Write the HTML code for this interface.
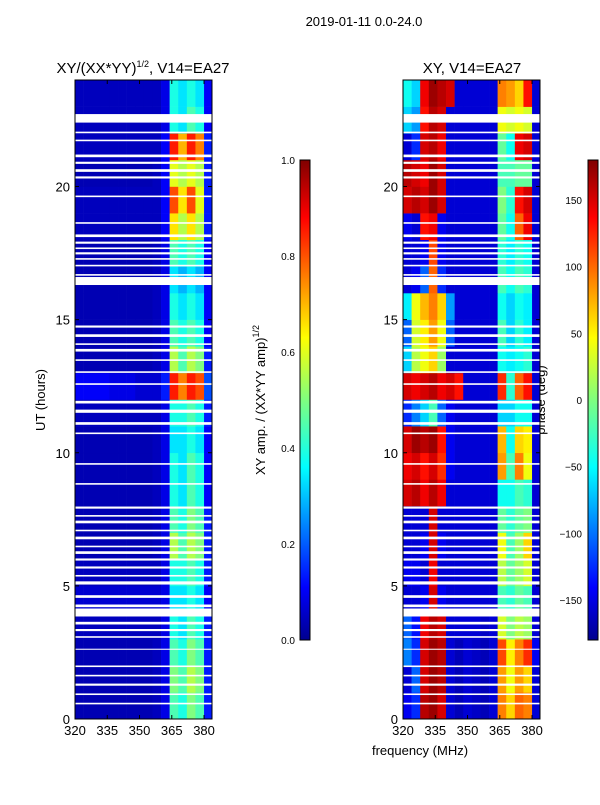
<!DOCTYPE html>
<html><head><meta charset="utf-8"><style>
body{margin:0;background:#fff;}
svg text{font-family:"Liberation Sans",sans-serif;fill:#000;}
</style></head><body>
<svg id="fig" width="600" height="800" xmlns="http://www.w3.org/2000/svg">
<defs>
<linearGradient id="jet" x1="0" y1="1" x2="0" y2="0">
<stop offset="0" stop-color="#00008f"/><stop offset="0.11" stop-color="#0000ff"/><stop offset="0.36" stop-color="#00ffff"/><stop offset="0.5" stop-color="#7fff7f"/><stop offset="0.63" stop-color="#ffff00"/><stop offset="0.88" stop-color="#ff0000"/><stop offset="1" stop-color="#800000"/>
</linearGradient>
</defs>
<text x="364" y="26" font-size="13" text-anchor="middle">2019-01-11 0.0-24.0</text>
<text x="143" y="73" font-size="15" text-anchor="middle">XY/(XX*YY)<tspan font-size="9" dy="-6">1/2</tspan><tspan dy="6">, V14=EA27</tspan></text>
<text x="472" y="73" font-size="15" text-anchor="middle">XY, V14=EA27</text>
<text transform="translate(45,400) rotate(-90)" font-size="13" text-anchor="middle">UT (hours)</text>
<text x="420" y="755" font-size="13" text-anchor="middle">frequency (MHz)</text>
<text transform="translate(265,400) rotate(-90)" font-size="13" text-anchor="middle">XY amp. / (XX*YY amp)<tspan font-size="9" dy="-6">1/2</tspan></text>
<text transform="translate(545,400) rotate(-90)" font-size="13" text-anchor="middle">phase (deg)</text>
<g id="left"></g>
<g id="right"></g>
<g id="axes"></g>
<rect x="300" y="160" width="10" height="480" fill="url(#jet)" stroke="#000" stroke-width="1"/>
<rect x="588" y="160" width="10" height="480" fill="url(#jet)" stroke="#000" stroke-width="1"/>
</svg>
<script>
const freqEdges=[320,324,328,332,336,340,344,348,352,356,360,364,368,372,376,380,384];
const hours=[0,1,2,3,4,5,6,7,8,9,10,11,12,13,14,15,16,17,18,19,20,21,22,23];
const ampRows=[
[0.05,0.05,0.05,0.05,0.05,0.05,0.05,0.05,0.05,0.06,0.1,0.45,0.4,0.5,0.45,0.15],
[0.05,0.05,0.05,0.05,0.05,0.05,0.05,0.05,0.05,0.06,0.1,0.5,0.45,0.55,0.5,0.15],
[0.05,0.05,0.05,0.05,0.05,0.05,0.05,0.05,0.05,0.06,0.1,0.45,0.4,0.5,0.45,0.15],
[0.06,0.06,0.06,0.06,0.06,0.06,0.06,0.06,0.06,0.06,0.1,0.4,0.35,0.45,0.4,0.15],
[0.08,0.08,0.08,0.08,0.08,0.08,0.08,0.08,0.08,0.08,0.1,0.35,0.35,0.4,0.35,0.12],
[0.06,0.06,0.06,0.06,0.06,0.06,0.06,0.06,0.06,0.06,0.1,0.4,0.4,0.45,0.4,0.15],
[0.05,0.05,0.05,0.05,0.05,0.05,0.05,0.05,0.05,0.06,0.1,0.55,0.45,0.55,0.5,0.15],
[0.05,0.05,0.05,0.05,0.05,0.05,0.05,0.05,0.05,0.06,0.1,0.45,0.4,0.5,0.45,0.15],
[0.05,0.05,0.05,0.05,0.05,0.05,0.05,0.05,0.05,0.06,0.1,0.4,0.35,0.45,0.4,0.12],
[0.05,0.05,0.05,0.05,0.05,0.05,0.05,0.05,0.05,0.06,0.1,0.4,0.35,0.45,0.4,0.12],
[0.05,0.05,0.05,0.05,0.05,0.05,0.05,0.05,0.05,0.06,0.1,0.35,0.35,0.4,0.35,0.12],
[0.06,0.06,0.06,0.06,0.06,0.06,0.06,0.06,0.06,0.06,0.1,0.4,0.4,0.45,0.4,0.15],
[0.12,0.12,0.12,0.12,0.1,0.1,0.1,0.08,0.08,0.08,0.15,0.85,0.75,0.85,0.8,0.2],
[0.05,0.05,0.05,0.05,0.05,0.05,0.05,0.05,0.05,0.06,0.1,0.55,0.45,0.55,0.5,0.15],
[0.05,0.05,0.05,0.05,0.05,0.05,0.05,0.05,0.05,0.06,0.1,0.45,0.4,0.45,0.4,0.12],
[0.05,0.05,0.05,0.05,0.05,0.05,0.05,0.05,0.05,0.06,0.1,0.4,0.35,0.4,0.35,0.12],
[0.05,0.05,0.05,0.05,0.05,0.05,0.05,0.05,0.05,0.06,0.1,0.35,0.3,0.35,0.3,0.12],
[0.05,0.05,0.05,0.05,0.05,0.05,0.05,0.05,0.05,0.06,0.1,0.45,0.4,0.45,0.4,0.12],
[0.06,0.06,0.06,0.06,0.06,0.06,0.06,0.06,0.06,0.06,0.12,0.65,0.55,0.65,0.55,0.15],
[0.06,0.06,0.06,0.06,0.06,0.06,0.06,0.06,0.06,0.06,0.12,0.8,0.65,0.8,0.6,0.15],
[0.05,0.05,0.05,0.05,0.05,0.05,0.05,0.05,0.05,0.06,0.12,0.6,0.55,0.6,0.55,0.15],
[0.06,0.06,0.06,0.06,0.06,0.06,0.06,0.06,0.06,0.06,0.12,0.85,0.7,0.85,0.75,0.15],
[0.06,0.06,0.06,0.06,0.06,0.06,0.06,0.06,0.06,0.06,0.1,0.4,0.35,0.45,0.4,0.12],
[0.06,0.06,0.06,0.06,0.06,0.06,0.06,0.06,0.06,0.06,0.1,0.4,0.35,0.4,0.35,0.12]];
const phaseRows=[
[-140,-120,160,170,150,-150,-160,-150,-155,-160,-150,90,60,100,90,-150],
[-150,-100,150,170,160,-150,-160,-150,-155,-160,-150,80,40,80,60,-150],
[-90,-120,150,170,160,-150,-160,-150,-155,-160,-150,110,50,90,120,-140],
[-100,-130,140,160,150,-150,-150,-150,-150,-155,-150,30,0,20,10,-150],
[-150,-150,-140,150,-140,-150,-150,-150,-150,-150,-150,-20,-30,-10,-20,-150],
[-140,-140,-150,140,-150,-150,-150,-150,-150,-150,-150,20,-10,10,30,-150],
[-150,-150,-140,150,-140,-150,-150,-150,-150,-150,-150,40,-20,10,60,-150],
[-150,-150,-150,150,-150,-150,-150,-150,-150,-150,-150,-10,-30,-10,0,-150],
[150,160,140,160,140,-150,-150,-150,-150,-150,-150,-40,-40,-20,-30,-150],
[140,150,130,150,120,-140,-150,-150,-150,-150,-150,80,-20,90,40,-150],
[150,170,160,170,130,-140,-150,-150,-150,-150,-150,70,-40,60,50,-150],
[-120,-90,-60,-20,-100,-140,-150,-150,-150,-150,-150,-60,-60,-40,-40,-150],
[150,140,150,160,140,150,130,-150,-150,-150,-150,120,-30,100,130,-150],
[-60,20,40,60,10,-150,-150,-150,-150,-150,-150,-40,-50,-40,-30,-150],
[-100,30,50,80,40,-100,-150,-150,-150,-150,-150,-20,-60,-30,-50,-150],
[-50,40,70,90,60,-80,-150,-150,-150,-150,-150,-40,-60,-40,-50,-150],
[-150,-140,-100,100,-120,-150,-150,-150,-150,-150,-150,-20,-40,-20,-30,-150],
[-150,-150,-140,110,-140,-150,-150,-150,-150,-150,-150,-30,-50,-30,-40,-150],
[-140,-150,130,140,-140,-150,-150,-150,-150,-150,-150,-10,-40,100,140,-150],
[150,160,150,170,150,-150,-150,-150,-150,-150,-150,0,-30,130,150,-150],
[160,150,140,170,150,-150,-150,-150,-150,-150,-150,-20,-20,-10,-10,-150],
[-150,-120,150,160,140,-150,-150,-150,-150,-150,-150,-10,-40,140,150,-150],
[-60,-80,130,160,150,-150,-150,-150,-150,-150,-150,40,30,40,30,-150],
[-40,-60,140,170,160,150,-150,-150,-150,-150,-150,90,80,60,130,-150]];
const gapStart=[0.55,0.9,1.25,1.6,1.95,2.6,3.05,3.3,3.55,3.85,4.2,4.55,5.05,5.35,5.65,5.95,6.2,6.45,6.75,7.05,7.35,7.6,7.9,8.8,9.55,10.7,11.05,11.5,11.85,12.55,13.0,13.45,13.8,14.05,14.35,14.7,16.3,16.65,17.0,17.25,17.45,17.65,17.85,18.1,18.6,19.6,20.3,20.55,20.85,21.1,21.7,22.0,22.4];
const gapLen=[0.06,0.06,0.08,0.06,0.06,0.04,0.06,0.08,0.1,0.3,0.1,0.1,0.12,0.06,0.08,0.08,0.1,0.06,0.1,0.06,0.1,0.06,0.08,0.06,0.06,0.06,0.1,0.12,0.1,0.06,0.06,0.06,0.1,0.06,0.1,0.08,0.3,0.06,0.06,0.06,0.08,0.06,0.08,0.1,0.06,0.06,0.08,0.1,0.08,0.1,0.06,0.06,0.32];
const yTicks=[0,5,10,15,20];
const xTicks=[320,335,350,365,380];
const ampTicks=[0.0,0.2,0.4,0.6,0.8,1.0];
const phaseTicks=[-150,-100,-50,0,50,100,150];

const NS='http://www.w3.org/2000/svg';
const Y0=719,Y1=80,PW=137;
const yS=h=>Y0-(h/24)*(Y0-Y1);
function xS(left,f){return left+(f-320)/(383.7-320)*PW;}
function jet(v){v=Math.max(0,Math.min(1,v));
 const r=Math.max(0,Math.min(1,1.5-Math.abs(4*v-3))),g=Math.max(0,Math.min(1,1.5-Math.abs(4*v-2))),b=Math.max(0,Math.min(1,1.5-Math.abs(4*v-1)));
 return 'rgb('+Math.round(r*255)+','+Math.round(g*255)+','+Math.round(b*255)+')';}
function mk(tag,attrs,parent){const e=document.createElementNS(NS,tag);for(const k in attrs)e.setAttribute(k,attrs[k]);parent.appendChild(e);return e;}
function drawMap(gid,left,rows,norm){
 const g=document.getElementById(gid);
 hours.forEach((h,i)=>{rows[i].forEach((v,j)=>{
  const x0=xS(left,freqEdges[j]),x1=Math.min(xS(left,freqEdges[j+1]),left+PW);
  const r=mk('rect',{x:x0,y:yS(h+1),width:x1-x0+0.3,height:yS(h)-yS(h+1)+0.3,fill:jet(norm(v))},g);
  
  
 });});
 gapStart.forEach((s,i)=>{
  const r=mk('rect',{x:left,y:yS(s+gapLen[i]),width:PW,height:yS(s)-yS(s+gapLen[i]),fill:'#fff'},g);
  
  
 });
 const ax=document.getElementById('axes');
 const f=mk('rect',{x:left,y:Y1,width:PW,height:Y0-Y1,fill:'none',stroke:'#000','stroke-width':1},ax);
 
 
 yTicks.forEach(t=>{const y=yS(t);
  mk('line',{x1:left,x2:left+4,y1:y,y2:y,stroke:'#000'},ax);
  mk('line',{x1:left+PW,x2:left+PW-4,y1:y,y2:y,stroke:'#000'},ax);
  const tx=mk('text',{x:left-5,y:y+5,'font-size':13,'text-anchor':'end'},ax);tx.textContent=t;
  
  
 });
 xTicks.forEach(t=>{const x=xS(left,t);
  mk('line',{x1:x,x2:x,y1:Y0,y2:Y0-4,stroke:'#000'},ax);
  mk('line',{x1:x,x2:x,y1:Y1,y2:Y1+4,stroke:'#000'},ax);
  const tx=mk('text',{x:x,y:Y0+16,'font-size':13,'text-anchor':'middle'},ax);tx.textContent=t;
  
  
 });
}
drawMap('left',75,ampRows,v=>v);
drawMap('right',403,phaseRows,v=>(v+180)/360);
const ax=document.getElementById('axes');
ampTicks.forEach(t=>{const y=640-t*480;
 mk('line',{x1:300,x2:310,y1:y,y2:y,stroke:'#000'},ax);
 const tx=mk('text',{x:295,y:y+4,'font-size':10,'text-anchor':'end'},ax);tx.textContent=t.toFixed(1);
 
 
});
phaseTicks.forEach(t=>{const y=640-(t+180)/360*480;
 mk('line',{x1:588,x2:598,y1:y,y2:y,stroke:'#000'},ax);
 const tx=mk('text',{x:582,y:y+4,'font-size':10,'text-anchor':'end'},ax);tx.textContent=t<0?'\u2212'+(-t):t;
 
 
});
</script>
</body></html>
